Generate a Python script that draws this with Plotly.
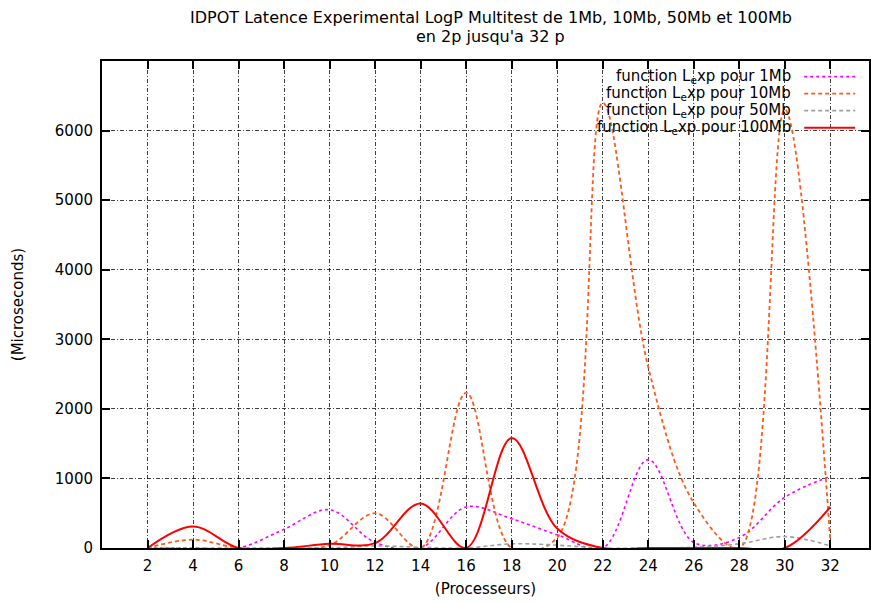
import plotly.graph_objects as go

# ---- data ----
processeurs = [2, 4, 6, 8, 10, 12, 14, 16, 18, 20, 22, 24, 26, 28, 30, 32]
lat_1mb = [0, 0, 0, 270, 550, 80, 0, 590, 420, 190, 0, 1270, 80, 150, 730, 1030]
lat_10mb = [0, 120, 0, 0, 40, 500, 0, 2230, 0, 150, 6400, 2600, 650, 0, 6300, 100]
lat_50mb = [0, 0, 0, 0, 0, 30, 10, 0, 60, 40, 0, 0, 10, 60, 165, 30]
lat_100mb = [0, 310, 0, 0, 60, 70, 640, 0, 1580, 280, 0, 0, 0, 0, 0, 590]

series_names = ["function L<sub>e</sub>xp pour 1Mb", "function L<sub>e</sub>xp pour 10Mb",
                "function L<sub>e</sub>xp pour 50Mb", "function L<sub>e</sub>xp pour 100Mb"]
series_values = [lat_1mb, lat_10mb, lat_50mb, lat_100mb]
colors = ["#ff00ff", "#ff5a1e", "#a0a0a0", "#ff0000"]
dashes = ["dot", "4px,3px", "4px,3px", "solid"]
widths = [1.6, 1.8, 1.6, 2.0]

x_ticks = list(range(2, 33, 2))
y_ticks = [0, 1000, 2000, 3000, 4000, 5000, 6000]

title_lines = ["IDPOT Latence Experimental LogP Multitest de 1Mb, 10Mb, 50Mb et 100Mb",
               "en 2p jusqu'a 32 p"]

FONT = "DejaVu Sans, Liberation Sans, Arial, sans-serif"

fig = go.Figure()
for name, vals, c, d, w in zip(series_names, series_values, colors, dashes, widths):
    fig.add_trace(go.Scatter(x=processeurs, y=vals, mode="lines", name=name,
                             line=dict(color=c, dash=d, width=w, shape="spline", smoothing=1.0),
                             showlegend=False))

# manual gnuplot-style legend (text left, sample right)
row_y = [0.968, 0.933, 0.898, 0.863]
for name, c, d, w, yy in zip(series_names, colors, dashes, widths, row_y):
    fig.add_annotation(x=0.901, y=yy, xref="paper", yref="paper", text=name,
                       showarrow=False, xanchor="right", yanchor="middle",
                       font=dict(family=FONT, size=15, color="black"))
    fig.add_shape(type="line", xref="paper", yref="paper", x0=0.9155, x1=0.982, y0=yy, y1=yy,
                  line=dict(color=c, dash=d, width=w))

# two-line title (gnuplot style, tight spacing)
for txt, yy in zip(title_lines, [1.089, 1.050]):
    fig.add_annotation(x=0.507, y=yy, xref="paper", yref="paper", text=txt,
                       showarrow=False, xanchor="center", yanchor="middle",
                       font=dict(family=FONT, size=16, color="black"))

grid_style = dict(showgrid=True, gridcolor="rgba(0,0,0,0.75)", gridwidth=1, griddash="4px,2px,1px,2px")

fig.update_layout(
    width=871, height=603,
    margin=dict(l=102, r=0, t=61, b=55),
    paper_bgcolor="white", plot_bgcolor="white",
    font=dict(family=FONT, size=16, color="black"),
    xaxis=dict(range=[0, 33.7], tickvals=x_ticks, ticktext=[str(t) for t in x_ticks],
               ticks="inside", ticklen=8, tickwidth=2, tickcolor="black",
               showline=True, linecolor="black", linewidth=2, mirror="ticks",
               zeroline=False, ticklabelstandoff=3,
               tickfont=dict(family=FONT, size=15),
               title=dict(text="(Processeurs)", standoff=9, font=dict(family=FONT, size=15)),
               **grid_style),
    yaxis=dict(range=[0, 7000], tickvals=y_ticks, ticktext=[str(t) for t in y_ticks],
               ticks="inside", ticklen=8, tickwidth=2, tickcolor="black",
               showline=True, linecolor="black", linewidth=2, mirror="ticks",
               zeroline=False, ticklabelstandoff=4,
               tickfont=dict(family=FONT, size=15),
               title=dict(text="(Microseconds)", standoff=28, font=dict(family=FONT, size=15)),
               **grid_style),
)

fig.write_html("out.html")
